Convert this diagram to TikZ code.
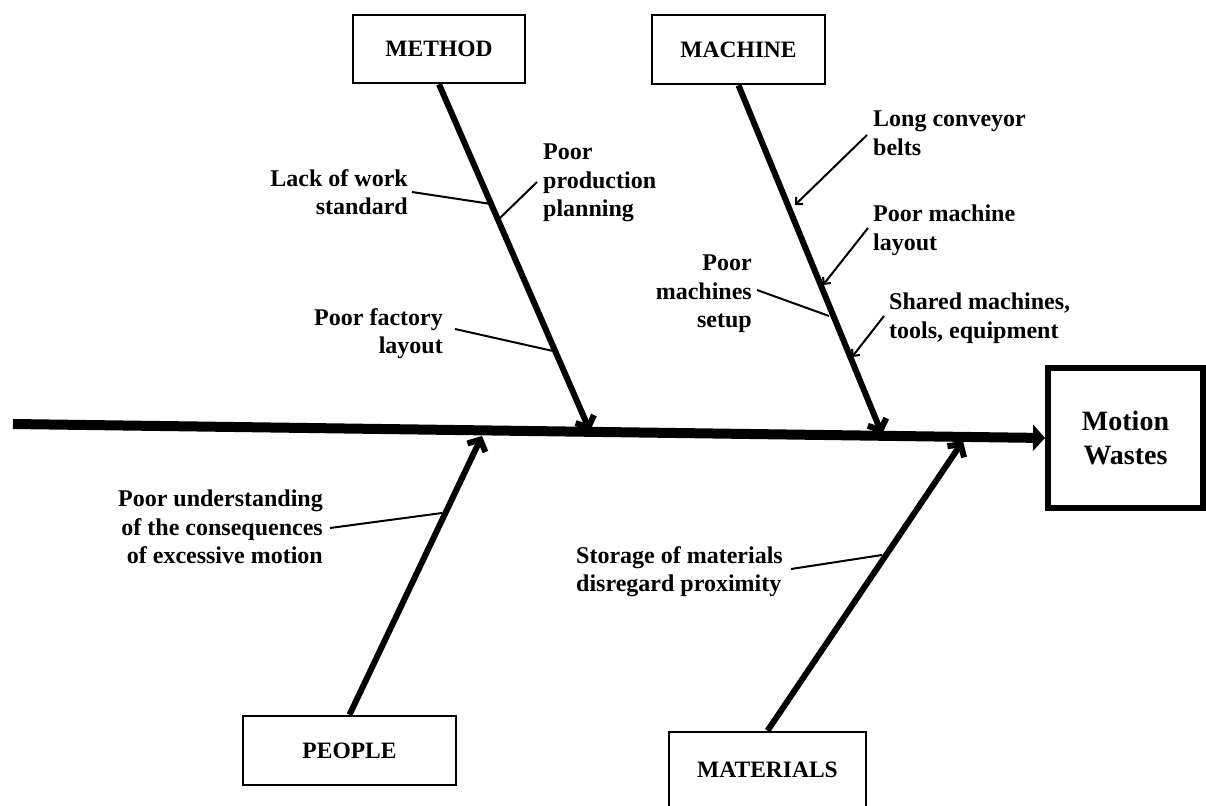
\documentclass[tikz,border=0pt]{standalone}
\usepackage{fontspec}
\setmainfont{Liberation Serif}
\usetikzlibrary{arrows.meta,calc}
\begin{document}
\begin{tikzpicture}[x=1pt,y=-1pt,
  catbox/.style={draw,line width=2.5pt,inner sep=0pt,
    font=\bfseries\fontsize{23.5}{27}\selectfont},
  effbox/.style={draw,line width=6pt,inner sep=0pt,align=center,
    font=\bfseries\fontsize{28}{34}\selectfont},
  cause/.style={inner sep=0pt,font=\bfseries\fontsize{24}{28.5}\selectfont},
  spine/.style={line width=10pt,-{Triangle[length=12pt,width=26pt]}},
  bone/.style={line width=6pt,-{Straight Barb[length=9pt,width=20pt]}},
  tick/.style={line width=2pt},
  pointer/.style={line width=2pt,-{Straight Barb[length=5pt,width=10pt]}}]

\useasboundingbox (0,0) rectangle (1206,805);
\clip (0,0) rectangle (1206,805);

% category boxes and the effect
\node[catbox,minimum width=172pt,minimum height=68pt] (method) at (439,49) {METHOD};
\node[catbox,minimum width=173pt,minimum height=69pt] (machine) at (738.5,49.5) {MACHINE};
\node[catbox,minimum width=213pt,minimum height=69pt] (people) at (349.5,750.5) {PEOPLE};
\node[catbox,minimum width=197pt,minimum height=76pt] (materials) at (767.5,770) {MATERIALS};
\node[effbox,minimum width=155pt,minimum height=140pt] (effect) at (1125.5,438) {Motion\\Wastes};

% main spine
\coordinate (tail) at (13,424);
\draw[spine] (tail) -- (effect.west);

% bones
\coordinate (methodhead) at (590,431);
\coordinate (machinehead) at (882,434);
\coordinate (peoplehead) at (482,436);
\coordinate (materialshead) at (963,441);
\draw[bone] (method.south) -- (methodhead);
\draw[bone] (machine.south) -- (machinehead);
\draw[bone] (people.north) -- (peoplehead);
\draw[bone] (materials.north) -- (materialshead);

% causes
\node[cause,align=right,anchor=north east] (lack) at (408,169) {Lack of work\\standard};
\node[cause,align=left,anchor=north west] (plan) at (543,144) {Poor\\production\\planning};
\node[cause,align=right,anchor=north east] (factory) at (443,308) {Poor factory\\layout};
\node[cause,align=left,anchor=north west] (conveyor) at (873,111) {Long conveyor\\belts};
\node[cause,align=left,anchor=north west] (mlayout) at (873,205) {Poor machine\\layout};
\node[cause,align=right,anchor=north east] (setup) at (752,255) {Poor\\machines\\setup};
\node[cause,align=left,anchor=north west] (shared) at (889,293) {Shared machines,\\tools, equipment};
\node[cause,align=right,anchor=north east] (understand) at (323,490) {Poor understanding\\of the consequences\\of excessive motion};
\node[cause,align=left,anchor=north west] (storage) at (576,546) {Storage of materials\\disregard proximity};

% cause connectors
\coordinate (lackA) at (412,192);   \coordinate (lackB) at (491,204);
\coordinate (planA) at (537,182);   \coordinate (planB) at (500,218);
\coordinate (factA) at (455,329);   \coordinate (factB) at (553,351);
\coordinate (convA) at (867,135);   \coordinate (convB) at (795,205);
\coordinate (mlayA) at (868,228);   \coordinate (mlayB) at (823,285);
\coordinate (setA) at (757,290);    \coordinate (setB) at (829,316);
\coordinate (shA) at (884,316);     \coordinate (shB) at (852,357);
\coordinate (undA) at (330,528);    \coordinate (undB) at (442,513);
\coordinate (stoA) at (791,569);    \coordinate (stoB) at (882,555);

\draw[tick] (lackA) -- (lackB);
\draw[tick] (planA) -- (planB);
\draw[tick] (factA) -- (factB);
\draw[pointer] (convA) -- (convB);
\draw[pointer] (mlayA) -- (mlayB);
\draw[tick] (setA) -- (setB);
\draw[pointer] (shA) -- (shB);
\draw[tick] (undA) -- (undB);
\draw[tick] (stoA) -- (stoB);
\end{tikzpicture}
\end{document}
